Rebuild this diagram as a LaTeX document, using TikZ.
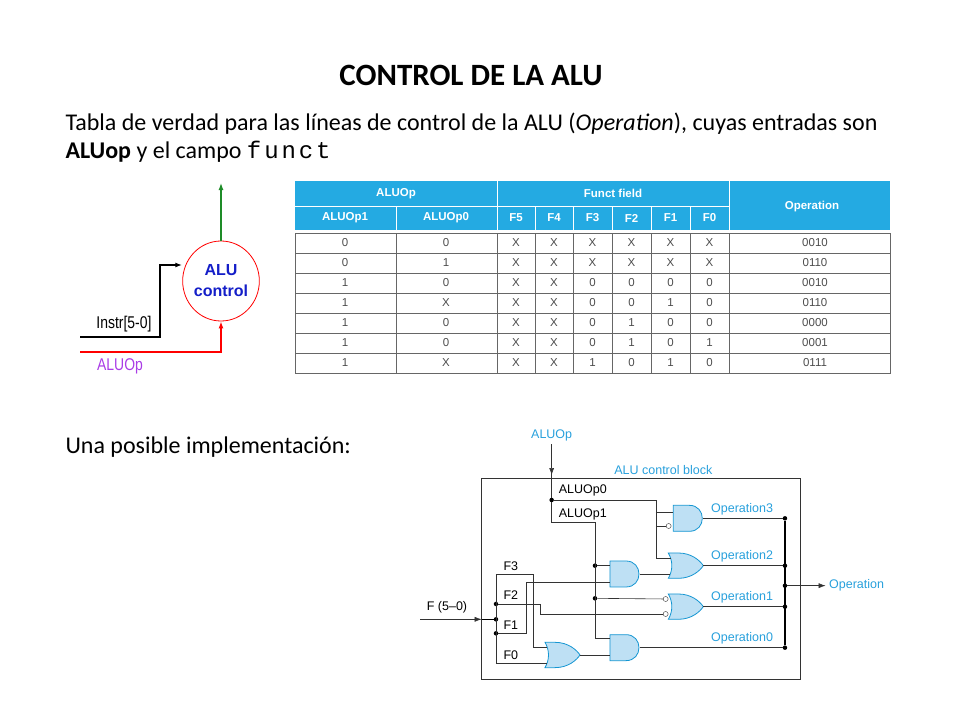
\documentclass[tikz,border=0pt]{standalone}
\usepackage{fontspec}
\setmainfont{Carlito}
\newfontfamily\arialf{Liberation Sans}
\newfontfamily\narrowf[FakeStretch=0.82]{Liberation Sans}
\newfontfamily\widemono[LetterSpace=12]{Liberation Mono}
\usetikzlibrary{shapes.geometric, arrows.meta}
\definecolor{hdblue}{RGB}{36,170,226}
\definecolor{gatefill}{RGB}{190,224,244}
\definecolor{gateline}{RGB}{20,150,210}
\definecolor{labblue}{RGB}{40,160,220}
\definecolor{alublue}{RGB}{20,30,200}
\definecolor{opgreen}{RGB}{30,140,40}
\definecolor{oppurple}{RGB}{170,60,230}

\tikzset{
  cell/.style={font=\arialf\fontsize{11.5}{13}\selectfont, text=black!70},
  hcell/.style={font=\arialf\bfseries\fontsize{11.5}{13}\selectfont, text=white},
  wire/.style={draw=black!80, line width=0.6pt},
  dot/.style={circle, fill=black, inner sep=0pt, minimum size=4.5pt},
  bubble/.style={circle, draw=black!80, fill=white, inner sep=0pt, minimum size=5pt},
  lab/.style={font=\arialf\fontsize{12.5}{14}\selectfont},
  blab/.style={lab, text=labblue},
  tip/.style={-{Latex[length=7pt, width=5pt]}},
  andg/.pic={\draw[gateline, fill=gatefill, line width=0.8pt] (0,-39) -- (48,-39)
      .. controls (100,-39) and (100,39) .. (48,39) -- (0,39) -- cycle;},
  org/.pic={\draw[gateline, fill=gatefill, line width=0.8pt] (0,-38) -- (30,-38)
      .. controls (70,-38) and (95,-15) .. (105,0) .. controls (95,15) and (70,38) .. (30,38)
      -- (0,38) .. controls (14,14) and (14,-14) .. (0,-38) -- cycle;}
}

\begin{document}
\begin{tikzpicture}[x=1pt, y=-1pt]
\useasboundingbox (0,0) rectangle (960,720);

% title and text
\node (title) at (471,75) {\fontsize{31}{34}\selectfont\bfseries CONTROL DE LA ALU};
\node[anchor=west, font=\fontsize{24}{26}\selectfont] (line1) at (62,124)
  {Tabla de verdad para las líneas de control de la ALU (\emph{Operation}), cuyas entradas son};
\node[anchor=west, font=\fontsize{24}{26}\selectfont] (line2) at (62,152)
  {\textbf{ALUop} y el campo {\widemono funct}};
\node[anchor=west, font=\fontsize{24}{26}\selectfont] (line3) at (62,447)
  {Una posible implementación:};

% ALU control symbol
\node[ellipse, draw=red, line width=0.8pt, minimum width=60pt, minimum height=80pt, inner sep=0pt,
  align=center, text=alublue, font=\arialf\bfseries\fontsize{16}{21}\selectfont] (alu) at (221,281)
  {ALU\\control};
\coordinate (outtop) at (221,183);
\draw[opgreen, line width=1.2pt, tip] (alu.north) -- (outtop);
\coordinate (instr) at (80,337);
\draw[black, line width=1.8pt, tip] (instr) -- (160,337) |- (alu.west |- 0,265);
\node[anchor=south, font=\narrowf\fontsize{17}{18}\selectfont] (instrlab) at (124,336) {Instr[5-0]};
\coordinate (aluopin) at (80,352);
\draw[red, line width=1.8pt, tip] (aluopin) -| (alu.south);
\node[text=oppurple, font=\narrowf\fontsize{17}{18}\selectfont] (aluoplab) at (120,366) {ALUOp};

% truth table header
\fill[hdblue] (295,181) rectangle (890,230);
\draw[white, line width=1pt] (295,206) -- (729,206) (497,181) -- (497,230) (729,181) -- (729,230)
  (396,206) -- (396,230);
\foreach \xa in {535,573,612,651,690}
  \draw[white, line width=1pt] (\xa,206) -- (\xa,230);
\node[hcell] (hA) at (396,193.5) {ALUOp};
\node[hcell] (hF) at (613,193.5) {Funct field};
\node[hcell] (hO) at (812,207) {Operation};
\foreach \x/\t in {345/ALUOp1,446/ALUOp0,516/F5,554/F4,592.5/F3,631.5/F2,670.5/F1,709.5/F0}
  \node[hcell] at (\x,218) {\t};

% truth table body
\draw[black!60, line width=0.6pt] (295,233) rectangle (890,373);
\foreach \y in {253,273,...,353}
  \draw[black!60, line width=0.6pt] (295,\y) -- (890,\y);
\foreach \x in {396,497,535,573,612,651,690,729}
  \draw[black!60, line width=0.6pt] (\x,233) -- (\x,373);
\foreach \a/\b/\c/\d/\e/\f/\g/\h/\op [count=\r] in {
  0/0/X/X/X/X/X/X/0010,
  0/1/X/X/X/X/X/X/0110,
  1/0/X/X/0/0/0/0/0010,
  1/X/X/X/0/0/1/0/0110,
  1/0/X/X/0/1/0/0/0000,
  1/0/X/X/0/1/0/1/0001,
  1/X/X/X/1/0/1/0/0111} {
  \pgfmathsetmacro{\yy}{223+20*\r}
  \foreach \x/\t in {345/\a,446/\b,516/\c,554/\d,592.5/\e,631.5/\f,670.5/\g,709.5/\h,815/\op}
    \node[cell] at (\x,\yy) {\t};
}

% ALU control block
\begin{scope}[xshift=410pt, yshift=-420pt, x=0.3333pt, y=-0.3333pt]
\draw[black!80, line width=0.6pt] (215,175) rectangle (1170,778);
\node[blab] (blocklab) at (760,150) {ALU control block};
\node[blab] (aluoptop) at (425,45) {ALUOp};
\node[dot] (j0) at (425,240) {};
\draw[wire, tip] (aluoptop.south) -- (425,165);
\draw[wire] (425,160) -- (j0);
\node[lab, anchor=west] (p0lab) at (436,212) {ALUOp0};
\node[lab, anchor=west] (p1lab) at (436,282) {ALUOp1};

% gates
\pic at (790,295) {andg};
\pic at (775,437) {org};
\pic at (600,462) {andg};
\pic at (775,560) {org};
\pic at (600,683) {andg};
\pic at (405,705) {org};
\node[bubble] (b3) at (776,318) {};
\node[bubble] (b1a) at (767,537) {};
\node[bubble] (b1b) at (767,582) {};

% ALUOp0 wires
\draw[wire] (j0) -- (738,240) -- (738,415) -- (783,415);
\draw[wire] (738,278) -- (790,278);
\draw[wire] (738,318) -- (b3);
% ALUOp1 wires
\node[dot] (j1) at (555,437) {};
\node[dot] (j2) at (555,535) {};
\draw[wire] (j0) -- (425,308) -- (555,308) -- (555,655) -- (600,655);
\draw[wire] (j1) -- (600,437);
\draw[wire] (j2) -- (b1a);
% middle gates
\draw[wire] (690,462) -- (781,462);
% function field bus
\node[dot] (f2) at (258,552) {};
\node[dot] (f1m) at (258,598) {};
\node[dot] (f1) at (258,640) {};
\draw[wire] (258,463) -- (258,730);
\draw[black, line width=1.6pt] (215,598) -- (f1m);
\coordinate (fin) at (30,598);
\draw[wire, tip] (fin) -- (215,598);
\node[lab, anchor=south west] (flab) at (40,590) {F (5–0)};
\node[lab, anchor=west] (f3lab) at (270,440) {F3};
\node[lab, anchor=west] (f2lab) at (270,525) {F2};
\node[lab, anchor=west] (f1lab) at (270,615) {F1};
\node[lab, anchor=west] (f0lab) at (270,705) {F0};
\draw[wire] (258,463) -- (370,463) -- (370,683) -- (410,683);
\draw[wire] (f2) -- (390,552) -- (390,582) -- (b1b);
\draw[wire] (f1) -- (348,640) -- (348,487) -- (600,487);
\draw[wire] (258,730) -- (410,730);
\draw[wire] (510,705) -- (600,705);
% outputs
\node[dot] (o3) at (1125,295) {};
\node[dot] (o2) at (1125,437) {};
\node[dot] (om) at (1125,497) {};
\node[dot] (o1) at (1125,560) {};
\node[dot] (o0) at (1125,683) {};
\draw[black, line width=1.6pt] (o3) -- (o0);
\draw[wire] (880,295) -- (o3);
\draw[wire] (880,437) -- (o2);
\draw[wire] (880,560) -- (o1);
\draw[wire] (690,683) -- (o0);
\node[blab] (oplab) at (1340,497) {Operation};
\draw[wire, tip] (om) -- (oplab.west);
\node[blab, anchor=west] (op3) at (893,268) {Operation3};
\node[blab, anchor=west] (op2) at (893,410) {Operation2};
\node[blab, anchor=west] (op1) at (893,533) {Operation1};
\node[blab, anchor=west] (op0) at (893,655) {Operation0};
\end{scope}
\end{tikzpicture}
\end{document}
